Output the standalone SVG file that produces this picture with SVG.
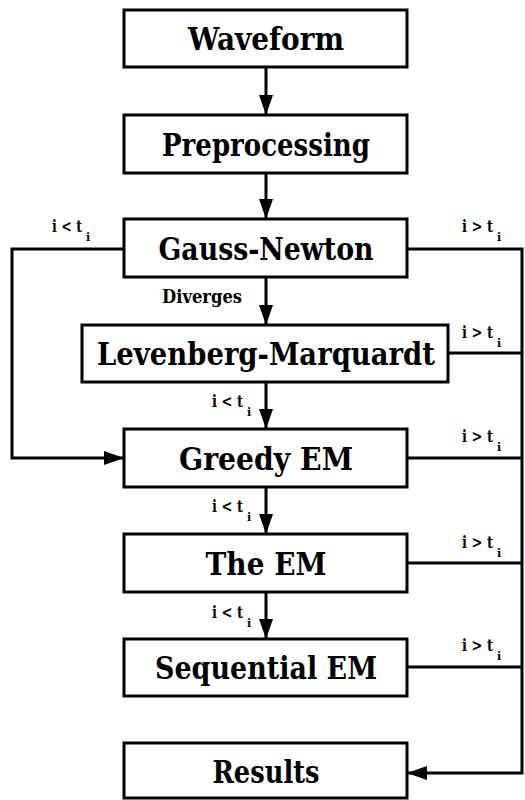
<svg xmlns="http://www.w3.org/2000/svg" width="525" height="800" viewBox="0 0 525 800">
<style>
.box{fill:#fff;stroke:#000;stroke-width:3}
.t{font-family:"DejaVu Serif","Liberation Serif",serif;font-weight:bold;font-size:31.5px;text-anchor:middle;fill:#000}
.l{font-family:"DejaVu Serif","Liberation Serif",serif;font-weight:bold;font-size:17px;fill:#000}
.s{font-size:11px}
.c{fill:none;stroke:#000;stroke-width:3}
</style>
<defs>
<marker id="ah" markerWidth="20" markerHeight="14" refX="20" refY="7" orient="auto" markerUnits="userSpaceOnUse">
<path d="M0,0 L20,7 L0,14 Z" fill="#000"/>
</marker>
</defs>
<rect width="525" height="800" fill="#fff"/>
<g id="connectors">
<line class="c" x1="266" y1="67" x2="266" y2="115" marker-end="url(#ah)"/>
<line class="c" x1="266" y1="173" x2="266" y2="219" marker-end="url(#ah)"/>
<line class="c" x1="266" y1="277" x2="266" y2="325" marker-end="url(#ah)"/>
<line class="c" x1="266" y1="382" x2="266" y2="429" marker-end="url(#ah)"/>
<line class="c" x1="266" y1="487" x2="266" y2="534" marker-end="url(#ah)"/>
<line class="c" x1="266" y1="592" x2="266" y2="639" marker-end="url(#ah)"/>
<polyline class="c" points="124,249 12,249 12,458 124,458" marker-end="url(#ah)"/>
<polyline class="c" points="407,249 522,249 522,773 407,773" marker-end="url(#ah)"/>
<line class="c" x1="448" y1="353" x2="522" y2="353"/>
<line class="c" x1="407" y1="458" x2="522" y2="458"/>
<line class="c" x1="407" y1="563" x2="522" y2="563"/>
<line class="c" x1="407" y1="667" x2="522" y2="667"/>
<text class="l" x="52" y="232"><tspan textLength="30" lengthAdjust="spacingAndGlyphs">i &lt; t</tspan><tspan class="s" x="86" y="241">i</tspan></text>
<text class="l" x="462" y="232"><tspan textLength="31" lengthAdjust="spacingAndGlyphs">i &gt; t</tspan><tspan class="s" x="497" y="241">i</tspan></text>
<text class="l" x="162" y="303" style="font-size:18px" textLength="80" lengthAdjust="spacingAndGlyphs">Diverges</text>
<text class="l" x="462" y="338"><tspan textLength="31" lengthAdjust="spacingAndGlyphs">i &gt; t</tspan><tspan class="s" x="497" y="347">i</tspan></text>
<text class="l" x="212" y="407"><tspan textLength="31" lengthAdjust="spacingAndGlyphs">i &lt; t</tspan><tspan class="s" x="247" y="416">i</tspan></text>
<text class="l" x="462" y="442"><tspan textLength="31" lengthAdjust="spacingAndGlyphs">i &gt; t</tspan><tspan class="s" x="497" y="451">i</tspan></text>
<text class="l" x="212" y="512"><tspan textLength="31" lengthAdjust="spacingAndGlyphs">i &lt; t</tspan><tspan class="s" x="247" y="521">i</tspan></text>
<text class="l" x="462" y="548"><tspan textLength="31" lengthAdjust="spacingAndGlyphs">i &gt; t</tspan><tspan class="s" x="497" y="557">i</tspan></text>
<text class="l" x="212" y="618"><tspan textLength="31" lengthAdjust="spacingAndGlyphs">i &lt; t</tspan><tspan class="s" x="247" y="627">i</tspan></text>
<text class="l" x="462" y="651"><tspan textLength="31" lengthAdjust="spacingAndGlyphs">i &gt; t</tspan><tspan class="s" x="497" y="660">i</tspan></text>
</g>
<g id="waveform"><rect class="box" x="124" y="10" width="283" height="57"/><text class="t" x="266" y="50" textLength="156" lengthAdjust="spacingAndGlyphs">Waveform</text></g>
<g id="preprocessing"><rect class="box" x="124" y="115" width="283" height="58"/><text class="t" x="266" y="156" textLength="208" lengthAdjust="spacingAndGlyphs">Preprocessing</text></g>
<g id="gauss-newton"><rect class="box" x="124" y="219" width="283" height="58"/><text class="t" x="266" y="260" textLength="215" lengthAdjust="spacingAndGlyphs">Gauss-Newton</text></g>
<g id="levenberg-marquardt"><rect class="box" x="82" y="325" width="366" height="57"/><text class="t" x="266" y="365" textLength="338" lengthAdjust="spacingAndGlyphs">Levenberg-Marquardt</text></g>
<g id="greedy-em"><rect class="box" x="124" y="429" width="283" height="58"/><text class="t" x="266" y="470" textLength="174" lengthAdjust="spacingAndGlyphs">Greedy EM</text></g>
<g id="the-em"><rect class="box" x="124" y="534" width="283" height="58"/><text class="t" x="266" y="575" textLength="121" lengthAdjust="spacingAndGlyphs">The EM</text></g>
<g id="sequential-em"><rect class="box" x="124" y="639" width="283" height="57"/><text class="t" x="266" y="679" textLength="222" lengthAdjust="spacingAndGlyphs">Sequential EM</text></g>
<g id="results"><rect class="box" x="124" y="743" width="283" height="55"/><text class="t" x="266" y="783" textLength="107" lengthAdjust="spacingAndGlyphs">Results</text></g>
</svg>
